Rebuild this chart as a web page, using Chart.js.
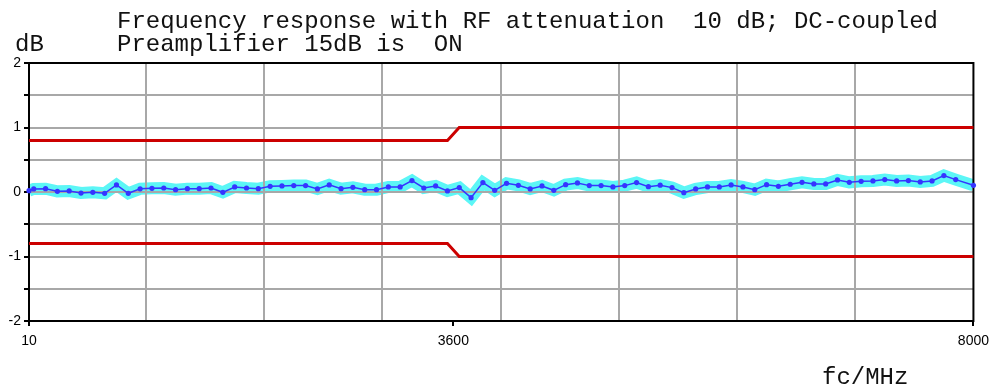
<!DOCTYPE html>
<html><head><meta charset="utf-8">
<script src="https://cdn.jsdelivr.net/npm/chart.js@4"></script>
<style>html,body{margin:0;padding:0;background:#fff}</style>
</head><body>
<canvas id="c" width="996" height="389"></canvas>
<script>
// ---- data ----
const frequencies = [10,
  50,150,250,350,450,550,650,750,850,950,
  1050,1150,1250,1350,1450,1550,1650,1750,1850,1950,
  2050,2150,2250,2350,2450,2550,2650,2750,2850,2950,
  3050,3150,3250,3350,3450,3550,3650,3750,3850,3950,
  4050,4150,4250,4350,4450,4550,4650,4750,4850,4950,
  5050,5150,5250,5350,5450,5550,5650,5750,5850,5950,
  6050,6150,6250,6350,6450,6550,6650,6750,6850,6950,
  7050,7150,7250,7350,7450,7550,7650,7750,7850,
  8000];
const levels = [0.02,
  0.047,0.052,0.010,0.016,-0.016,-0.005,-0.020,0.110,-0.020,0.050,
  0.057,0.062,0.036,0.052,0.052,0.062,-0.005,0.078,0.062,0.052,
  0.088,0.094,0.100,0.100,0.047,0.110,0.052,0.073,0.036,0.036,
  0.078,0.078,0.177,0.062,0.094,0.016,0.068,-0.088,0.146,0.026,
  0.135,0.104,0.047,0.094,0.026,0.114,0.140,0.099,0.099,0.078,
  0.099,0.146,0.083,0.106,0.068,-0.010,0.047,0.078,0.078,0.109,
  0.078,0.036,0.114,0.088,0.120,0.150,0.125,0.125,0.187,0.150,
  0.166,0.172,0.192,0.172,0.177,0.156,0.172,0.255,0.192,
  0.104];
const limitFreqs = [10, 3550, 3650, 8000];
const upperLimit = [0.8, 0.8, 1.0, 1.0];
const lowerLimit = [-0.8, -0.8, -1.0, -1.0];
const xTickLabels = [10, 3600, 8000];
const xGridValues = [1000, 2000, 3000, 4000, 5000, 6000, 7000];
const yTickLabels = [-2, -1, 0, 1, 2];
const titleLines = ["Frequency response with RF attenuation  10 dB; DC-coupled",
                    "Preamplifier 15dB is  ON"];
const yAxisTitle = "dB";
const xAxisTitle = "fc/MHz";

// ---- chart ----
const pts = (xs, ys) => xs.map((x, i) => ({x, y: ys[i]}));
const GRID = '#a8a8a8';
const MONO = '"Liberation Mono", "Courier New", monospace';
const SANS = '"Liberation Sans", Arial, sans-serif';

const overlay = {
  id: 'overlay',
  beforeDatasetDraw(chart, args) {
    if (args.index !== 0) return false;
  },
  afterDraw(chart) {
    const {ctx, chartArea: a} = chart;
    ctx.save();
    ctx.strokeStyle = '#000';
    ctx.lineWidth = 2;
    ctx.strokeRect(a.left, a.top, a.right - a.left, a.bottom - a.top);
    ctx.restore();
    [1, 2, 3].forEach(i => {
      ctx.save();
      chart.getDatasetMeta(i).controller.draw();
      ctx.restore();
    });
    ctx.save();
    ctx.fillStyle = '#111';
    ctx.font = '24px ' + MONO;
    ctx.textBaseline = 'alphabetic';
    ctx.textAlign = 'left';
    ctx.fillText(titleLines[0], 117, 28);
    ctx.fillText(titleLines[1], 117, 50.5);
    ctx.fillText(yAxisTitle, 15, 50.5);
    ctx.fillText(xAxisTitle, 822, 384);
    ctx.restore();
  }
};

new Chart(document.getElementById('c'), {
  type: 'line',
  data: {
    datasets: [
      {data: pts(frequencies, levels), borderColor: '#5cf6f6', borderWidth: 12,
       pointRadius: 0, tension: 0, borderJoinStyle: 'miter', fill: false},
      {data: pts(limitFreqs, upperLimit), borderColor: '#cc0000', borderWidth: 3,
       pointRadius: 0, tension: 0, fill: false},
      {data: pts(limitFreqs, lowerLimit), borderColor: '#cc0000', borderWidth: 3,
       pointRadius: 0, tension: 0, fill: false},
      {data: pts(frequencies, levels), borderColor: '#3535ff', borderWidth: 1.5,
       pointRadius: 2.6, pointBackgroundColor: '#3535ff', pointBorderWidth: 0,
       tension: 0, fill: false}
    ]
  },
  options: {
    responsive: false,
    devicePixelRatio: 1,
    animation: false,
    events: [],
    layout: {padding: {top: 63, right: 21, left: 0, bottom: 0}},
    plugins: {legend: {display: false}, tooltip: {enabled: false}, title: {display: false}},
    scales: {
      x: {
        type: 'linear', min: 10, max: 8000,
        afterBuildTicks: s => {
          s.ticks = [...xTickLabels, ...xGridValues].sort((p, q) => p - q).map(v => ({value: v}));
        },
        afterFit: s => { s.height = 68; },
        border: {display: false},
        grid: {
          z: 1, lineWidth: 2, tickLength: 5,
          color: c => xGridValues.includes(c.tick.value) ? GRID : 'rgba(0,0,0,0)',
          tickColor: c => xTickLabels.includes(c.tick.value) ? '#000' : 'rgba(0,0,0,0)'
        },
        ticks: {
          autoSkip: false, maxRotation: 0, padding: 7, color: '#000',
          font: {family: SANS, size: 14},
          callback: v => xTickLabels.includes(v) ? String(v) : ''
        }
      },
      y: {
        type: 'linear', min: -2, max: 2,
        afterFit: s => { s.width = 29; },
        border: {display: false},
        grid: {
          z: 1, lineWidth: 2, tickLength: 5,
          color: c => (c.tick.value > -2 && c.tick.value < 2) ? GRID : 'rgba(0,0,0,0)',
          tickColor: '#000'
        },
        ticks: {
          stepSize: 0.5, padding: 3, color: '#000',
          font: {family: SANS, size: 14},
          callback: v => yTickLabels.includes(v) ? String(v) : ''
        }
      }
    }
  },
  plugins: [overlay]
});
</script>
</body></html>
